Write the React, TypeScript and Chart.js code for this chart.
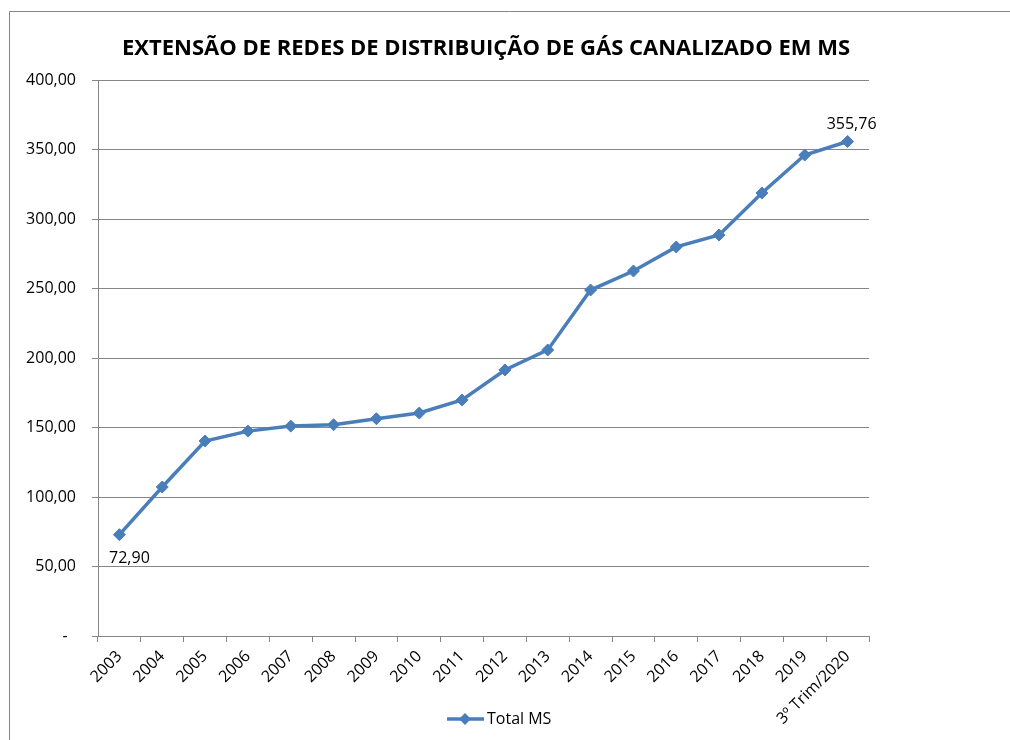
import React, { useEffect, useRef } from "react";
import { Chart, registerables } from "chart.js";

Chart.register(...registerables);

const TITLE = "EXTENSÃO DE REDES DE DISTRIBUIÇÃO DE GÁS CANALIZADO EM MS";
const SERIES_NAME = "Total MS";
const categories = [
  "2003", "2004", "2005", "2006", "2007", "2008", "2009", "2010", "2011",
  "2012", "2013", "2014", "2015", "2016", "2017", "2018", "2019", "3º Trim/2020",
];
const values = [
  72.9, 107.2, 140.3, 147.4, 151.0, 152.0, 156.3, 160.4, 169.8,
  191.4, 205.8, 248.9, 262.6, 279.9, 288.5, 318.7, 346.0, 355.76,
];
const yTicks = [0, 50, 100, 150, 200, 250, 300, 350, 400];

const BLUE = "#4A7EBB";
const GRAY = "#868686";
const FONT = '"Open Sans", "Liberation Sans", sans-serif';

const fmt = (v: number) => v.toFixed(2).replace(".", ",");

export default function App() {
  const ref = useRef<HTMLCanvasElement | null>(null);

  useEffect(() => {
    if (!ref.current) return;
    const decor = {
      id: "decor",
      beforeDraw(chart: any) {
        const ctx = chart.ctx;
        ctx.save();
        ctx.strokeStyle = GRAY;
        ctx.lineWidth = 1;
        ctx.beginPath();
        ctx.moveTo(9.5, 740);
        ctx.lineTo(9.5, 11.5);
        ctx.lineTo(1010, 11.5);
        ctx.stroke();
        // title
        let size = 22;
        ctx.font = `bold ${size}px ${FONT}`;
        const w = ctx.measureText(TITLE).width;
        if (w > 732) {
          size = Math.floor((size * 732) / w * 10) / 10;
          ctx.font = `bold ${size}px ${FONT}`;
        }
        ctx.fillStyle = "#000";
        ctx.textAlign = "center";
        ctx.textBaseline = "middle";
        ctx.fillText(TITLE, 486, 49);
        ctx.restore();
      },
      afterDraw(chart: any) {
        const ctx = chart.ctx;
        const meta = chart.getDatasetMeta(0);
        const pts = meta.data;
        ctx.save();
        ctx.fillStyle = "#000";
        ctx.font = `16px ${FONT}`;
        ctx.textAlign = "center";
        ctx.textBaseline = "middle";
        const first = pts[0];
        ctx.fillText(fmt(values[0]), first.x + 10, first.y + 24);
        const lastI = pts.length - 1;
        const last = pts[lastI];
        ctx.fillText(fmt(values[lastI]), last.x + 4, last.y - 17);
        // legend
        const ly = 719;
        ctx.strokeStyle = BLUE;
        ctx.lineWidth = 3.5;
        ctx.beginPath();
        ctx.moveTo(447, ly);
        ctx.lineTo(484, ly);
        ctx.stroke();
        ctx.fillStyle = BLUE;
        ctx.beginPath();
        ctx.moveTo(465, ly - 6);
        ctx.lineTo(471, ly);
        ctx.lineTo(465, ly + 6);
        ctx.lineTo(459, ly);
        ctx.closePath();
        ctx.fill();
        ctx.fillStyle = "#000";
        ctx.textAlign = "left";
        ctx.fillText(SERIES_NAME, 487, ly);
        ctx.restore();
      },
    };

    const chart = new Chart(ref.current, {
      type: "line",
      data: {
        labels: categories,
        datasets: [
          {
            label: SERIES_NAME,
            data: values,
            borderColor: BLUE,
            backgroundColor: BLUE,
            borderWidth: 3.5,
            pointStyle: "rectRot",
            pointRadius: 6,
            pointBackgroundColor: BLUE,
            pointBorderColor: BLUE,
            pointBorderWidth: 1,
            tension: 0,
          },
        ],
      },
      options: {
        animation: false,
        responsive: true,
        maintainAspectRatio: false,
        layout: { padding: { top: 80, right: 141, bottom: 4, left: 0 } },
        plugins: {
          legend: { display: false },
          title: { display: false },
          tooltip: { enabled: false },
        },
        scales: {
          x: {
            offset: true,
            grid: {
              offset: true,
              drawOnChartArea: false,
              drawTicks: true,
              tickLength: 6,
              color: GRAY,
            },
            border: { color: GRAY, width: 1 },
            ticks: {
              autoSkip: false,
              maxRotation: 45,
              minRotation: 45,
              padding: 5,
              color: "#000",
              font: { family: FONT, size: 16 },
            },
            afterFit(scale: any) {
              scale.height = 100;
            },
          },
          y: {
            min: 0,
            max: 400,
            afterBuildTicks(scale: any) {
              scale.ticks = yTicks.map((v) => ({ value: v }));
            },
            grid: { color: GRAY, tickLength: 6, lineWidth: 1 },
            border: { color: GRAY, width: 1 },
            ticks: {
              padding: 16,
              color: "#000",
              font: { family: FONT, size: 16 },
              callback: (v: any) =>
                Number(v) === 0 ? "-\u00a0\u00a0" : fmt(Number(v)),
            },
            afterFit(scale: any) {
              scale.width = 98;
            },
          },
        },
      },
      plugins: [decor],
    });
    return () => chart.destroy();
  }, []);

  return (
    <div style={{ position: "absolute", left: 0, top: 0, width: 1010, height: 740, background: "#fff" }}>
      <canvas ref={ref} />
    </div>
  );
}
